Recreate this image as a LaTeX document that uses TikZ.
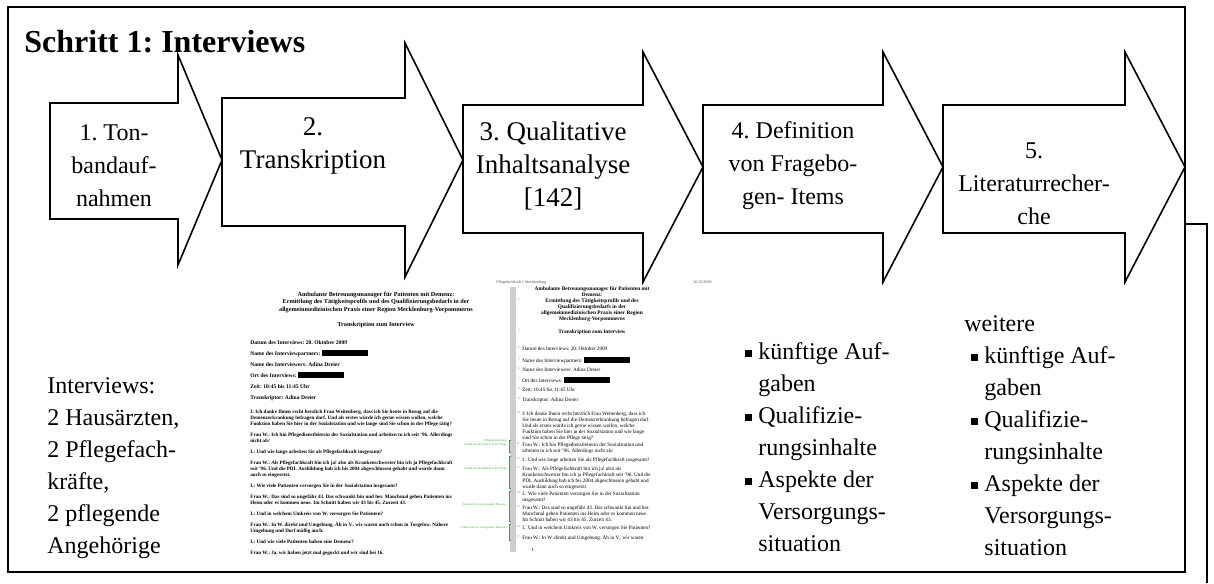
\documentclass[tikz,border=0pt]{standalone}
\usepackage{fontspec}
\setmainfont{Liberation Serif}
\usetikzlibrary{positioning}
\definecolor{notizGruen}{RGB}{60,165,60}
\definecolor{leisteGrau}{RGB}{205,205,205}
\frenchspacing

\newcommand{\bpunkt}{\makebox[6.5pt][l]{\rule[1.2pt]{3.4pt}{3.4pt}}}
\newcommand{\geschwaerzt}[1]{\rule[-0.6pt]{#1}{3pt}}
\newcommand{\schrittpfeil}[7]{%
  \draw[pfeil] (#1,#4) -- (#2,#4) -- (#2,#6) -- (#3,{(#6+#7)/2}) -- (#2,#7) -- (#2,#5) -- (#1,#5) -- cycle;}

\begin{document}
\begin{tikzpicture}[
    x=0.5pt, y=-0.5pt,
    pfeil/.style={draw=black, fill=white, line width=0.8pt, line join=miter},
    pfeiltext/.style={align=center, inner sep=0pt, font=\fontsize{12}{16.5}\selectfont},
    grosstext/.style={pfeiltext, font=\fontsize{13.5}{16.5}\selectfont},
    rahmen/.style={draw=black, line width=1pt},
    liste/.style={align=left, inner sep=0pt, anchor=north west, font=\fontsize{12}{16}\selectfont},
    dok1/.style={align=left, inner sep=0pt, anchor=north west, font=\fontsize{2.55}{3}\selectfont\bfseries},
    dok1kopf/.style={align=center, inner sep=0pt, anchor=north, font=\fontsize{3.1}{3.6}\selectfont\bfseries},
    dok2/.style={align=left, inner sep=0pt, anchor=north west, font=\fontsize{2.6}{3}\selectfont},
    dok2kopf/.style={align=center, inner sep=0pt, anchor=north, font=\fontsize{2.7}{3}\selectfont\bfseries},
    zeilennr/.style={inner sep=0pt, anchor=north east, text=gray, font=\fontsize{1.6}{2}\selectfont},
    notiz/.style={inner sep=0pt, anchor=east, text=notizGruen, font=\fontsize{1.45}{2}\selectfont},
    klammer/.style={draw=notizGruen, line width=0.4pt}
]
\useasboundingbox (0,0) rectangle (1214,583);

% Rahmen und Titel
\draw[rahmen] (8,7) rectangle (1185,572);
\draw[rahmen] (1185,224) -- (1207,224) -- (1207,583);
\node[anchor=base west, inner sep=0pt, font=\fontsize{16}{19}\selectfont\bfseries] (titel) at (24,53) {Schritt 1: Interviews};

% Schritte
\schrittpfeil{50}{178}{222}{103}{219}{55}{265}
\schrittpfeil{222}{405}{463}{98}{226}{43}{277}
\schrittpfeil{463}{643}{703}{105}{233}{52}{282}
\schrittpfeil{703}{883}{943}{105}{233}{52}{282}
\schrittpfeil{943}{1125}{1185}{105}{233}{52}{282}

\node[pfeiltext] (t1) at (114,166) {1. Ton-\\bandauf-\\nahmen};
\node[grosstext] (t2) at (313,146) {2.\\Transkription};
\node[grosstext] (t3) at (553,166) {3. Qualitative\\Inhaltsanalyse\\{[142]}};
\node[pfeiltext] (t4) at (793,166) {4. Definition\\von Fragebo-\\gen- Items};
\node[pfeiltext] (t5) at (1034,184) {5.\\Literaturrecher-\\che};

% Interviewpartner
\node[liste] (partner) at (47,377) {Interviews:\\2 Hausärzten,\\2 Pflegefach-\\kräfte,\\2 pflegende\\Angehörige};

% Ergebnisse
\node[liste] (items) at (745,342) {\bpunkt künftige Auf-\\\hspace*{6.5pt}gaben\\\bpunkt Qualifizie-\\\hspace*{6.5pt}rungsinhalte\\\bpunkt Aspekte der\\\hspace*{6.5pt}Versorgungs-\\\hspace*{6.5pt}situation};
\node[liste] (literatur) at (964,315) {weitere\\\hspace*{3.5pt}\bpunkt künftige Auf-\\\hspace*{10pt}gaben\\\hspace*{3.5pt}\bpunkt Qualifizie-\\\hspace*{10pt}rungsinhalte\\\hspace*{3.5pt}\bpunkt Aspekte der\\\hspace*{10pt}Versorgungs-\\\hspace*{10pt}situation};

% Transkript 1
\node[dok1kopf] (d1kopf) at (376,292) {Ambulante Betreuungsmanager für Patienten mit Demenz:\\Ermittlung des Tätigkeitsprofils und des Qualifizierungsbedarfs in der\\allgemeinmedizinischen Praxis einer Region Mecklenburg-Vorpommerns};
\node[dok1kopf] (d1titel) at (376,322) {Transkription zum Interview};
\node[dok1, font=\fontsize{2.8}{3}\selectfont\bfseries] (d1daten) at (250,340) {Datum des Interviews: 20. Oktober 2009\\[2.5pt]
  Name des Interviewpartners: \geschwaerzt{23pt}\\[2.5pt]
  Name des Interviewers: Adina Dreier\\[2.5pt]
  Ort des Interviews: \geschwaerzt{23pt}\\[2.5pt]
  Zeit: 10:45 bis 11:45 Uhr\\[2.5pt]
  Transkriptor: Adina Dreier};
\node[dok1] (d1dialog) at (250,410) {I: Ich danke Ihnen recht herzlich Frau Weitenberg, dass ich Sie heute in Bezug auf die\\
  Demenzerkrankung befragen darf. Und als erstes würde ich gerne wissen wollen, welche\\
  Funktion haben Sie hier in der Sozialstation und wie lange sind Sie schon in der Pflege tätig?\\[2.5pt]
  Frau W.: Ich bin Pflegedienstleiterin der Sozialstation und arbeiten tu ich seit '96. Allerdings\\
  nicht als/\\[2.5pt]
  I.: Und wie lange arbeiten Sie als Pflegefachkraft insgesamt?\\[2.5pt]
  Frau W.: Als Pflegefachkraft bin ich ja! also als Krankenschwester bin ich ja Pflegefachkraft\\
  seit '96. Und die PDL Ausbildung hab ich bis 2004 abgeschlossen gehabt und wurde dann\\
  auch so eingesetzt.\\[2.5pt]
  I.: Wie viele Patienten versorgen Sie in der Sozialstation insgesamt?\\[2.5pt]
  Frau W.: Das sind so ungefähr 43. Das schwankt hin und her. Manchmal gehen Patienten ins\\
  Heim oder es kommen neue. Im Schnitt haben wir 43 bis 45. Zurzeit 43.\\[2.5pt]
  I.: Und in welchem Umkreis von W. versorgen Sie Patienten?\\[2.5pt]
  Frau W.: In W. direkt und Umgebung. Äh in V.. wir waren auch schon in Torgelow. Nähere\\
  Umgebung und Dorf mäßig auch.\\[2.5pt]
  I.: Und wie viele Patienten haben eine Demenz?\\[2.5pt]
  Frau W.: Ja, wir haben jetzt mal geguckt und wir sind bei 16.};

% Transkript 2 mit Zeilennummern und Kodierungen
\fill[leisteGrau] (510,287) rectangle (516,552);
\node[dok2, text=gray!60!black, font=\fontsize{2}{2.5}\selectfont] (d2kopfl) at (496,280) {Pflegefachkraft 1 Mecklenburg};
\node[dok2, anchor=north east, text=gray!60!black, font=\fontsize{2}{2.5}\selectfont] (d2kopfr) at (712,280) {20.10.2009};
\node[dok2kopf] (d2p1) at (592,286) {Ambulante Betreuungsmanager für Patienten mit\\Demenz:};
\node[dok2kopf] (d2p2) at (592,298) {Ermittlung des Tätigkeitsprofils und des\\Qualifizierungsbedarfs in der\\allgemeinmedizinischen Praxis einer Region\\Mecklenburg-Vorpommerns};
\node[dok2kopf] (d2p3) at (592,329) {Transkription zum Interview};
\node[zeilennr] (d2n1) at (520,286) {1};
\node[zeilennr] (d2n2) at (520,298) {2};
\node[zeilennr] (d2n3) at (520,329) {3};
\foreach \nr/\ypos/\inhalt in {
  4/346/{Datum des Interviews: 20. Oktober 2009},
  5/357/{Name des Interviewpartners: \geschwaerzt{23pt}},
  6/367/{Name des Interviewers: Adina Dreier},
  7/377/{Ort des Interviews: \geschwaerzt{23pt}},
  8/387/{Zeit: 10:45 bis 11:45 Uhr},
  9/397/{Transkriptor: Adina Dreier},
  10/411/{I: Ich danke Ihnen recht herzlich Frau Weitenberg, dass ich\\Sie heute in Bezug auf die Demenzerkrankung befragen darf.\\Und als erstes würde ich gerne wissen wollen, welche\\Funktion haben Sie hier in der Sozialstation und wie lange\\sind Sie schon in der Pflege tätig?},
  11/442/{Frau W.: Ich bin Pflegedienstleiterin der Sozialstation und\\arbeiten tu ich seit '96. Allerdings nicht als/},
  12/457/{I.: Und wie lange arbeiten Sie als Pflegefachkraft insgesamt?},
  13/466/{Frau W.: Als Pflegefachkraft bin ich ja! also als\\Krankenschwester bin ich ja Pflegefachkraft seit '96. Und die\\PDL Ausbildung hab ich bis 2004 abgeschlossen gehabt und\\wurde dann auch so eingesetzt.},
  14/491/{I.: Wie viele Patienten versorgen Sie in der Sozialstation\\insgesamt?},
  15/505/{Frau W.: Das sind so ungefähr 43. Das schwankt hin und her.\\Manchmal gehen Patienten ins Heim oder es kommen neue.\\Im Schnitt haben wir 43 bis 45. Zurzeit 43.},
  16/525/{I.: Und in welchem Umkreis von W. versorgen Sie Patienten?},
  17/535/{Frau W.: In W. direkt und Umgebung. Äh in V.. wir waren}}{
  \node[dok2] (d2p\nr) at (522,\ypos) {\inhalt};
  \node[zeilennr] (d2n\nr) at ([xshift=-1pt]d2p\nr.north west) {\nr};
}
\node[dok2] (d2seite) at (531,548) {1};

\node[notiz] (k1a) at (507,441) {Pflegedienstleitung};
\node[notiz] (k1b) at (507,445) {Anzahl der Berufsjahre in der Pflege};
\node[notiz] (k2) at (507,469) {Anzahl der Berufsjahre in der Pflege};
\node[notiz] (k3) at (507,505) {Anzahl der zu versorgenden Patienten};
\node[notiz] (k4) at (507,528) {Umkreis der zu versorgenden Patienten};
\draw[klammer] (511,440) -- (509,440) -- (509,452) -- (511,452);
\draw[klammer] (511,456) -- (509,456) -- (509,488) -- (511,488);
\draw[klammer] (511,491) -- (509,491) -- (509,521) -- (511,521);
\draw[klammer] (511,524) -- (509,524) -- (509,540) -- (511,540);

\end{tikzpicture}
\end{document}
